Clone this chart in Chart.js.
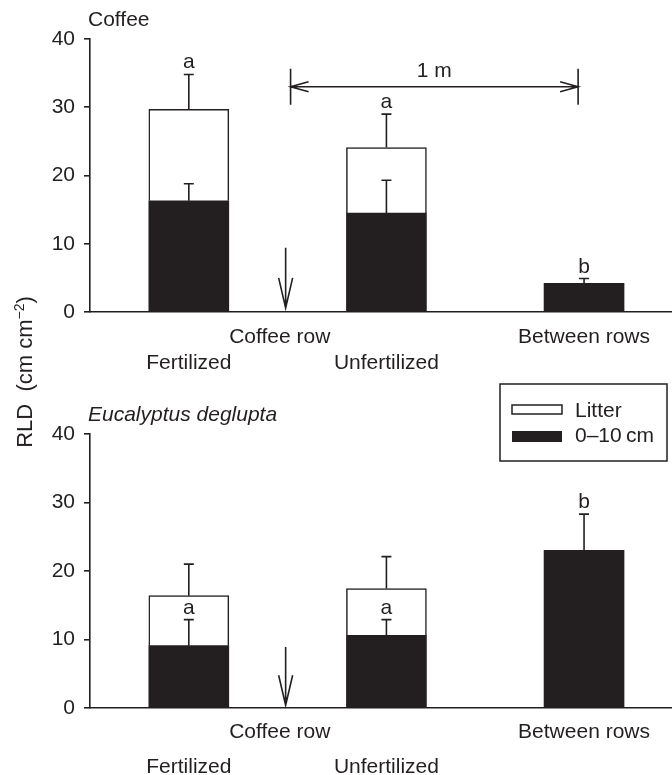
<!DOCTYPE html>
<html>
<head>
<meta charset="utf-8">
<script src="https://cdn.jsdelivr.net/npm/chart.js@4/dist/chart.umd.min.js"></script>
<style>
  body { margin: 0; background: #fff; }
  #wrap { position: relative; width: 672px; height: 775px; }
  #topChart { position: absolute; left: 0; top: 0; }
  #bottomChart { position: absolute; left: 0; top: 375px; }
  #ylab {
    position: absolute; left: -76px; top: 360px; width: 200px; height: 24px;
    line-height: 24px; text-align: center; transform: rotate(-90deg);
    font: 22px "Liberation Sans", Arial, sans-serif; color: #231f20; white-space: nowrap;
  }
  #ylab sup { font-size: 14px; vertical-align: 8px; line-height: 0; }
</style>
</head>
<body>
<div id="wrap">
  <canvas id="topChart" width="672" height="375"></canvas>
  <canvas id="bottomChart" width="672" height="400"></canvas>
  <div id="ylab">RLD&nbsp; (cm cm<sup>−2</sup>)</div>
</div>
<script>
// x positions: Fertilized, Unfertilized, Between rows
const sites = [1, 2, 3];
const tickValues = [1, 1.46, 2, 3];
const tickLabels = [['', 'Fertilized'], ['Coffee row', ''], ['', 'Unfertilized'], ['Between rows', '']];

// Coffee panel
const coffeeSoil = [16.3, 14.5, 4.2];
const coffeeLitter = [13.4, 9.6, null];
const coffeeSoilSE = [2.5, 4.8, 0.7];
const coffeeTotalSE = [5.1, 4.9, null];
const coffeeLetters = ['a', 'a', 'b'];

// Eucalyptus deglupta panel
const eucSoil = [9.1, 10.6, 23.0];
const eucLitter = [7.3, 6.85, null];
const eucSoilSE = [3.8, 2.3, 5.3];
const eucTotalSE = [4.6, 4.65, null];
const eucLetters = ['a', 'a', 'b'];

const INK = '#231f20';
const FONT = '"Liberation Sans", Arial, sans-serif';
Chart.defaults.font.family = FONT;
Chart.defaults.font.size = 21;
Chart.defaults.color = INK;

function errLine(ctx, x, y0, y1) {
  ctx.beginPath();
  ctx.moveTo(x, y0); ctx.lineTo(x, y1);
  ctx.moveTo(x - 5, y1); ctx.lineTo(x + 5, y1);
  ctx.stroke();
}

// error bars + letters
const errorBars = {
  id: 'errorBars',
  afterDatasetsDraw(chart, args, o) {
    const ctx = chart.ctx, y = chart.scales.y;
    const meta = chart.getDatasetMeta(0);
    ctx.save();
    ctx.strokeStyle = INK; ctx.fillStyle = INK; ctx.lineWidth = 1.6;
    ctx.font = '21px ' + FONT; ctx.textAlign = 'center'; ctx.textBaseline = 'alphabetic';
    o.soil.forEach((v, i) => {
      const x = meta.data[i].x;
      const soilTop = y.getPixelForValue(v + o.soilSE[i]);
      errLine(ctx, x, y.getPixelForValue(v), soilTop);
      let top = soilTop;
      if (o.litter[i] != null) {
        const total = v + o.litter[i];
        const t = y.getPixelForValue(total + o.totalSE[i]);
        errLine(ctx, x, y.getPixelForValue(total), t);
        if (o.letterOn === 'top') top = t;
      }
      ctx.fillText(o.letters[i], x, top - 6);
    });
    ctx.restore();
  }
};

// arrows, panel titles, legend
const extras = {
  id: 'extras',
  afterDraw(chart, args, o) {
    const ctx = chart.ctx, x = chart.scales.x, y = chart.scales.y, area = chart.chartArea;
    ctx.save();
    ctx.strokeStyle = INK; ctx.fillStyle = INK; ctx.lineWidth = 1.6;

    // down arrow at the coffee row
    const ax = x.getPixelForValue(o.rowAt);
    const a1 = y.getPixelForValue(o.arrowFrom), a2 = y.getPixelForValue(o.arrowTo);
    ctx.beginPath();
    ctx.moveTo(ax, a1); ctx.lineTo(ax, a2);
    ctx.moveTo(ax - 7, a2 - 30); ctx.lineTo(ax, a2); ctx.lineTo(ax + 7, a2 - 30);
    ctx.stroke();

    // 1 m span
    if (o.span) {
      const xl = x.getPixelForValue(o.span.from), xr = x.getPixelForValue(o.span.to);
      const sy = y.getPixelForValue(o.span.at);
      ctx.beginPath();
      ctx.moveTo(xl, sy); ctx.lineTo(xr, sy);
      ctx.moveTo(xl, sy - 18); ctx.lineTo(xl, sy + 18);
      ctx.moveTo(xr, sy - 18); ctx.lineTo(xr, sy + 18);
      ctx.moveTo(xl + 18, sy - 5); ctx.lineTo(xl, sy); ctx.lineTo(xl + 18, sy + 5);
      ctx.moveTo(xr - 18, sy - 5); ctx.lineTo(xr, sy); ctx.lineTo(xr - 18, sy + 5);
      ctx.stroke();
      ctx.font = '21px ' + FONT; ctx.textAlign = 'center'; ctx.textBaseline = 'middle';
      ctx.fillText(o.span.text, (xl + xr) / 2, sy - 16);
    }

    // panel title
    ctx.font = (o.italic ? 'italic ' : '') + '21px ' + FONT;
    ctx.textAlign = 'left'; ctx.textBaseline = 'middle';
    ctx.fillText(o.title, area.left - 2, area.top - 19);

    // legend
    if (o.legend) {
      const lx = area.right - 171, ly = area.top - 50;
      ctx.lineWidth = 1.5;
      ctx.strokeRect(lx, ly, 167, 77);
      ctx.fillStyle = '#fff';
      ctx.fillRect(lx + 12, ly + 21, 50, 9);
      ctx.strokeRect(lx + 12, ly + 21, 50, 9);
      ctx.fillStyle = INK;
      ctx.fillRect(lx + 12, ly + 47, 50, 11);
      ctx.font = '21px ' + FONT;
      ctx.fillText(o.legend[0], lx + 75, ly + 27);
      ctx.fillText(o.legend[1], lx + 75, ly + 52);
    }
    ctx.restore();
  }
};

function makePanel(id, soil, litter, soilSE, totalSE, letters, extra) {
  const data = {
    datasets: [{
      label: '0–10 cm',
      data: sites.map((s, i) => ({ x: s, y: soil[i] })),
      backgroundColor: INK,
      borderWidth: 0,
      barThickness: 80
    }, {
      label: 'Litter',
      data: sites.map((s, i) => ({ x: s, y: litter[i] })),
      backgroundColor: '#fff',
      borderColor: INK,
      borderWidth: 1.5,
      barThickness: 80
    }]
  };

  return new Chart(document.getElementById(id), {
    type: 'bar',
    data: data,
    plugins: [errorBars, extras],
    options: {
      responsive: false,
      animation: false,
      layout: { padding: { top: extra.top, right: 1, left: 0, bottom: 0 } },
      plugins: {
        legend: { display: false },
        tooltip: { enabled: false },
        errorBars: { soil, litter, soilSE, totalSE, letters, letterOn: extra.letterOn },
        extras: extra
      },
      scales: {
        x: {
          type: 'linear',
          stacked: true,
          offset: false,
          min: 0.5,
          max: 3.44,
          afterFit: s => { s.height = extra.axisH; },
          afterBuildTicks: s => { s.ticks = tickValues.map(v => ({ value: v })); },
          grid: { display: false, drawTicks: false, offset: false },
          border: { display: true, color: INK, width: 1.6 },
          ticks: {
            autoSkip: false,
            maxRotation: 0,
            minRotation: 0,
            padding: extra.tickPad,
            font: { size: 21, lineHeight: extra.lineH + 'px' },
            callback: v => tickLabels[tickValues.indexOf(v)]
          }
        },
        y: {
          stacked: true,
          min: 0,
          max: 40,
          afterFit: s => { s.width = 90; },
          grid: { drawOnChartArea: false, drawTicks: true, tickLength: 6, color: INK, lineWidth: 1.6 },
          border: { display: true, color: INK, width: 1.6 },
          ticks: { stepSize: 10, padding: 9, font: { size: 21 } }
        }
      }
    }
  });
}

makePanel('topChart', coffeeSoil, coffeeLitter, coffeeSoilSE, coffeeTotalSE, coffeeLetters, {
  top: 39, axisH: 63, tickPad: 12, lineH: 26, letterOn: 'top',
  title: 'Coffee', italic: false,
  rowAt: 1.49, arrowFrom: 9.4, arrowTo: 0.6,
  span: { from: 1.515, to: 2.97, at: 33.0, text: '1 m' }
});

makePanel('bottomChart', eucSoil, eucLitter, eucSoilSE, eucTotalSE, eucLetters, {
  top: 59, axisH: 67, tickPad: 7, lineH: 35, letterOn: 'soil',
  title: 'Eucalyptus deglupta', italic: true,
  rowAt: 1.49, arrowFrom: 8.9, arrowTo: 0.4,
  legend: ['Litter', '0–10\u2009cm']
});
</script>
</body>
</html>
